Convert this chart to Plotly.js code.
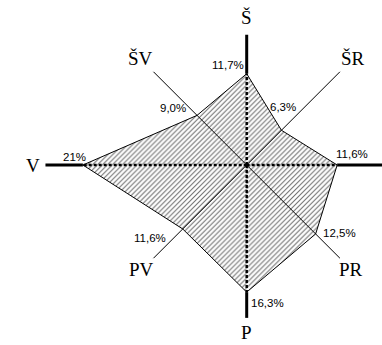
<!DOCTYPE html>
<html>
<head>
<meta charset="utf-8">
<script src="https://cdn.plot.ly/plotly-3.0.1.min.js"></script>
<style>
  html, body { margin: 0; padding: 0; background: #fff; }
  #grafico { width: 382px; height: 345px; }
</style>
</head>
<body>
<div id="grafico"></div>
<script>
// Smery vetra a ich početnosť (%)
const directions = ['Š', 'ŠR', 'R', 'PR', 'P', 'PV', 'V', 'ŠV'];
const frequency = [11.7, 6.3, 11.6, 12.5, 16.3, 11.6, 21, 9.0];
const valueLabels = ['11,7%', '6,3%', '11,6%', '12,5%', '16,3%', '11,6%', '21%', '9,0%'];

// uhly smerov (stupne, matematicky)
const angles = [90, 45, 0, -45, -90, -135, 180, 135];
// dĺžky osí a posuny popisov
const spokeLength = [16.7, 16.9, 18.5, 16.9, 19.6, 16.9, 25.8, 16.9];
const mainAxis = [true, false, true, false, true, false, true, false];
const labelShift = [[-19, 9], [2, 23], [15, 11], [24, 1], [21, -11], [-33, -9], [-8, 8], [-24, 7]];
const dirLabelGap = [2.2, 2.4, 2.4, 2.0, 1.9, 2.1, 1.6, 2.4];

const rad = a => a * Math.PI / 180;
const px = (r, a) => r * Math.cos(rad(a));
const py = (r, a) => r * Math.sin(rad(a));

const data = [];

// polygón so šrafovaním
const polyX = frequency.map((v, i) => px(v, angles[i]));
const polyY = frequency.map((v, i) => py(v, angles[i]));
polyX.push(polyX[0]);
polyY.push(polyY[0]);
data.push({
    x: polyX, y: polyY,
    type: 'scatter', mode: 'lines',
    fill: 'toself',
    fillcolor: 'rgba(0,0,0,0)',
    fillpattern: { shape: '/', fgcolor: '#6e6e6e', bgcolor: '#ffffff', size: 3.5, solidity: 0.3 },
    line: { color: '#000', width: 1 },
    hoverinfo: 'skip'
});

// osi
angles.forEach((a, i) => {
    const L = spokeLength[i];
    if (mainAxis[i]) {
        data.push({
            x: [0, px(frequency[i], a)], y: [0, py(frequency[i], a)],
            type: 'scatter', mode: 'lines',
            line: { color: '#000', width: 2.5, dash: '3px,2px' },
            hoverinfo: 'skip'
        });
        data.push({
            x: [px(frequency[i], a), px(L, a)], y: [py(frequency[i], a), py(L, a)],
            type: 'scatter', mode: 'lines',
            line: { color: '#000', width: 3 },
            hoverinfo: 'skip'
        });
    } else {
        data.push({
            x: [0, px(L, a)], y: [0, py(L, a)],
            type: 'scatter', mode: 'lines',
            line: { color: '#000', width: 1 },
            hoverinfo: 'skip'
        });
    }
});

const annotations = [];
directions.forEach((d, i) => {
    const r = spokeLength[i] + dirLabelGap[i];
    annotations.push({
        x: px(r, angles[i]), y: py(r, angles[i]),
        text: d, showarrow: false,
        xanchor: 'center', yanchor: 'middle',
        font: { family: 'Liberation Serif, Times New Roman, serif', size: 19, color: '#000' }
    });
    annotations.push({
        x: px(frequency[i], angles[i]), y: py(frequency[i], angles[i]),
        text: valueLabels[i], showarrow: false,
        xanchor: 'center', yanchor: 'middle',
        xshift: labelShift[i][0], yshift: labelShift[i][1],
        font: { family: 'Liberation Sans, Arial, sans-serif', size: 11.5, color: '#000' }
    });
});

const k = 7.8;
const layout = {
    width: 382, height: 345,
    margin: { l: 0, r: 0, t: 0, b: 0 },
    showlegend: false,
    xaxis: { range: [-246.7 / k, (382 - 246.7) / k], visible: false, fixedrange: true },
    yaxis: { range: [-(345 - 165) / k, 165 / k], visible: false, fixedrange: true },
    plot_bgcolor: '#fff',
    paper_bgcolor: '#fff',
    annotations: annotations
};

Plotly.newPlot('grafico', data, layout, { staticPlot: true });
</script>
</body>
</html>
